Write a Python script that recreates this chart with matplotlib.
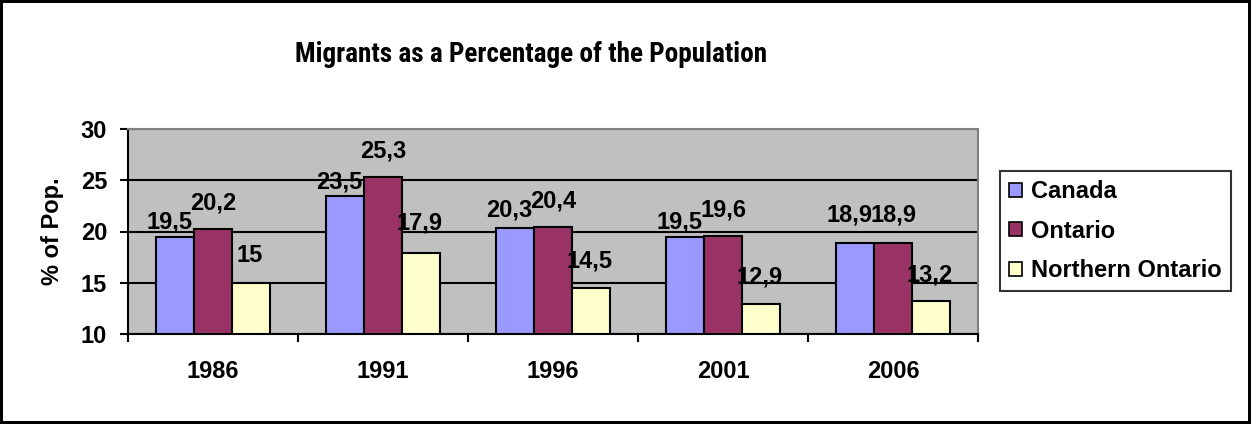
import numpy as np
import matplotlib
matplotlib.use("Agg")
import matplotlib.pyplot as plt
from matplotlib import font_manager

# data
years = ["1986", "1991", "1996", "2001", "2006"]
canada = [19.5, 23.5, 20.3, 19.5, 18.9]
ontario = [20.2, 25.3, 20.4, 19.6, 18.9]
northern = [15.0, 17.9, 14.5, 12.9, 13.2]
series_names = ["Canada", "Ontario", "Northern Ontario"]
colors = ["#9999FF", "#993366", "#FFFFCC"]

plt.rcParams['font.family'] = ['Liberation Sans', 'DejaVu Sans']
plt.rcParams['font.weight'] = 'bold'

W, H = 1251, 424
fig = plt.figure(figsize=(W / 100, H / 100), dpi=100)
fig.patch.set_edgecolor("black")
fig.patch.set_linewidth(3)

ax = fig.add_axes([128 / W, 1 - 334 / H, 850 / W, 205 / H])
ax.set_facecolor("#C0C0C0")

x = np.arange(len(years))
bw = 1 / 4.5
all_series = [canada, ontario, northern]
# label offsets in pixels (dx, dy) per series, Excel placed them a bit oddly
lab_dx = [-6, 0, -1]
lab_dy = [[15, 14, 18, 15, 28], [26, 26, 26, 26, 28], [27, 30, 27, 27, 26]]

for i, vals in enumerate(all_series):
    pos = x + (i - 1) * bw
    ax.bar(pos, np.array(vals) - 10, bw, bottom=10, color=colors[i],
           edgecolor="black", linewidth=1.5, label=series_names[i], zorder=3)
    for j, v in enumerate(vals):
        txt = ("%g" % v).replace(".", ",")
        ax.annotate(txt, (pos[j], v), xytext=(lab_dx[i] * 0.72, lab_dy[i][j] * 0.72),
                    textcoords="offset points", ha="center", va="center",
                    fontsize=17, fontweight="bold", zorder=4)

ax.set_xlim(-0.5, len(years) - 0.5)
ax.set_ylim(10, 30)
ax.set_yticks([10, 15, 20, 25, 30])
ax.yaxis.grid(True, color="black", linewidth=1.5, zorder=1)
ax.set_axisbelow(True)

ax.set_xticks(np.arange(-0.5, len(years), 1.0))
ax.set_xticklabels([])
ax.set_xticks(x, minor=True)
ax.set_xticklabels(years, minor=True)
ax.tick_params(axis="x", which="major", direction="out", length=6, width=1.5)
ax.tick_params(axis="x", which="minor", length=0, pad=19, labelsize=17)
ax.tick_params(axis="y", direction="out", length=6, width=1.5, pad=9, labelsize=17)

for s in ["top", "right"]:
    ax.spines[s].set_color("#808080")
    ax.spines[s].set_linewidth(1.5)
for s in ["left", "bottom"]:
    ax.spines[s].set_color("black")
    ax.spines[s].set_linewidth(1.5)

fig.text(53 / W, 1 - 231 / H, "% of Pop.", rotation=90, ha="center", va="center",
         fontsize=17, fontweight="bold")

# title font in the original is a narrow bold one, look for something similar
narrow = None
for f in font_manager.fontManager.ttflist:
    is_bold = f.weight in ("bold", "heavy", "black") or (isinstance(f.weight, int) and f.weight >= 600)
    if ("Narrow" in f.name or "Condensed" in f.name) and is_bold and f.style == "normal":
        narrow = f.fname
        if "Liberation" in f.name:
            break

title = fig.text(531 / W, 1 - 62 / H, "Migrants as a Percentage of the Population",
                 ha="center", va="baseline", fontsize=20, fontweight="bold")
if narrow:
    title.set_fontproperties(font_manager.FontProperties(fname=narrow, size=20))
# scale the title so it spans about 472 px like the original
fig.canvas.draw()
tw = title.get_window_extent().width
title.set_fontsize(20 * 472 / tw)

leg = fig.legend(loc="upper left", bbox_to_anchor=(1000 / W, 1 - 171 / H),
                 fontsize=17, frameon=True, fancybox=False, shadow=False,
                 handlelength=0.55, handleheight=0.55, handletextpad=0.35,
                 labelspacing=0.69, borderpad=0.4, borderaxespad=0)
leg.get_frame().set_edgecolor("black")
leg.get_frame().set_linewidth(1.5)
for t in leg.get_texts():
    t.set_fontweight("bold")
for p in leg.get_patches():
    p.set_linewidth(1.2)

fig.savefig("out.png", dpi=100, edgecolor=fig.get_edgecolor())
